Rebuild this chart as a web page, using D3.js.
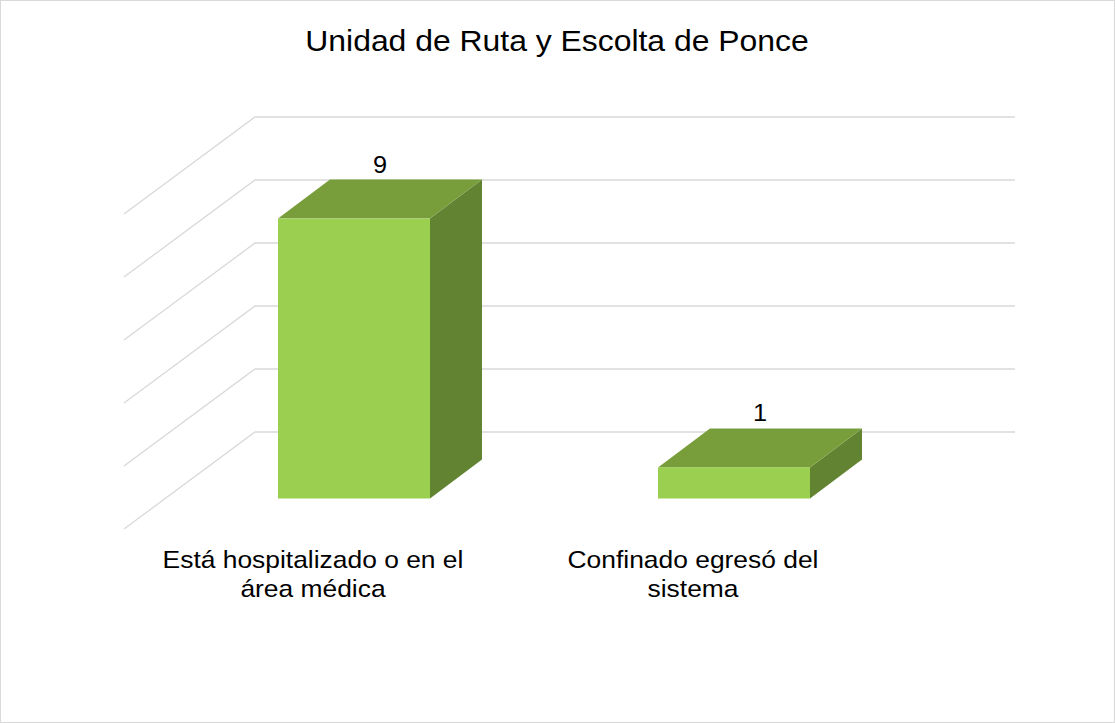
<!DOCTYPE html>
<html>
<head>
<meta charset="utf-8">
<script src="https://cdn.jsdelivr.net/npm/d3@7"></script>
<style>
  body { margin: 0; background: #fff; }
  text { font-family: "Liberation Sans", Arial, sans-serif; fill: #000; }
</style>
</head>
<body>
<script>
// chart data
const categories = ["Está hospitalizado o en el área médica", "Confinado egresó del sistema"];
const labelLines = [["Está hospitalizado o en el", "área médica"], ["Confinado egresó del", "sistema"]];
const values = [9, 1];
const gridTicks = [0, 2, 4, 6, 8, 10];
const title = "Unidad de Ruta y Escolta de Ponce";

const W = 1115, H = 723;
const stretch = 1.1; // text in the picture is a bit wider than it is tall
const svg = d3.select("body").append("svg").attr("width", W).attr("height", H);

svg.append("rect").attr("x", 0.5).attr("y", 0.5).attr("width", W - 1).attr("height", H - 1)
  .attr("fill", "#fff").attr("stroke", "#d9d9d9");

// depth of the wall and of the bars (oblique projection)
const wallDx = 131, wallDy = -97;
const barDx = 52, barDy = -39;

const yWall = d3.scaleLinear().domain([0, 10]).range([432, 117]);
const yBar = d3.scaleLinear().domain([0, 10]).range([498.5, 187.5]);

const x = d3.scaleBand().domain(categories).range([164, 924]).paddingInner(0.6).paddingOuter(0.3);

function label(px, py, size) {
  return svg.append("text").attr("text-anchor", "middle").attr("font-size", size)
    .attr("transform", `translate(${px},${py}) scale(${stretch},1)`);
}

// gridlines: side wall + back wall
const grid = svg.append("g").attr("stroke", "#d9d9d9").attr("stroke-width", 1.3).attr("fill", "none");
gridTicks.forEach(t => {
  const y = yWall(t);
  grid.append("path")
    .attr("d", `M${255 - wallDx},${y - wallDy} L255,${y} L1015,${y}`);
});

// bars
const bars = svg.append("g").selectAll("g").data(categories).join("g");
bars.each(function(c, i) {
  const g = d3.select(this);
  const x0 = x(c), x1 = x0 + x.bandwidth();
  const y0 = yBar(0), y1 = yBar(values[i]);
  // side face
  g.append("path").attr("fill", "#628432")
    .attr("d", `M${x1},${y1} L${x1 + barDx},${y1 + barDy} L${x1 + barDx},${y0 + barDy} L${x1},${y0} Z`);
  // top face
  g.append("path").attr("fill", "#789e3c")
    .attr("d", `M${x0},${y1} L${x0 + barDx},${y1 + barDy} L${x1 + barDx},${y1 + barDy} L${x1},${y1} Z`);
  // front face
  g.append("rect").attr("fill", "#9bcf4f")
    .attr("x", x0).attr("y", y1).attr("width", x.bandwidth()).attr("height", y0 - y1);
});

// value labels
categories.forEach((c, i) => {
  label(x(c) + x.bandwidth() / 2 + barDx / 2, yBar(values[i]) + barDy - 7, 23).text(values[i]);
});

// category labels
categories.forEach((c, i) => {
  const cx = x(c) + x.bandwidth() / 2 - 41;
  const t = label(cx, 568, 24);
  labelLines[i].forEach((line, j) => {
    t.append("tspan").attr("x", 0).attr("y", j * 29.5).text(line);
  });
});

// title
label(557, 51, 29).text(title);
</script>
</body>
</html>
